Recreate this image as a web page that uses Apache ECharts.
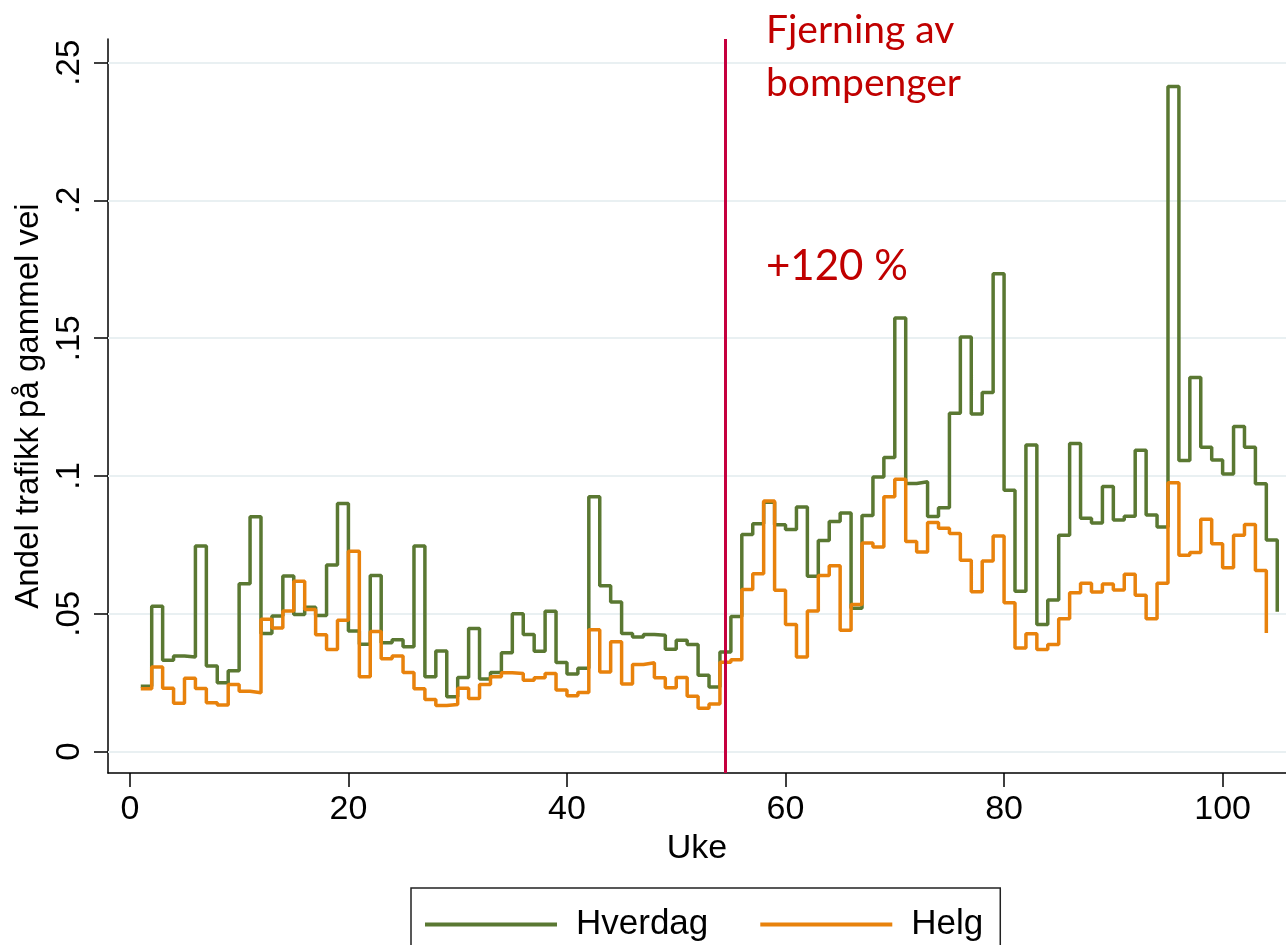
<!DOCTYPE html>
<html>
<head>
<meta charset="utf-8">
<script src="https://cdn.jsdelivr.net/npm/echarts@6/dist/echarts.min.js"></script>
<style>
  html, body { margin: 0; padding: 0; background: #fff; }
  #container { width: 1286px; height: 945px; }
</style>
</head>
<body>
<div id="container"></div>
<script>
// andel trafikk på gammel vei, uke 1..105 (hverdag) og 1..104 (helg)
var hverdag = [0.0237, 0.0527, 0.0331, 0.0347, 0.0343, 0.0746, 0.0310, 0.0250, 0.0293, 0.0609,
  0.0852, 0.0428, 0.0492, 0.0637, 0.0497, 0.0524, 0.0494, 0.0677, 0.0900, 0.0437,
  0.0389, 0.0639, 0.0395, 0.0406, 0.0380, 0.0746, 0.0271, 0.0365, 0.0199, 0.0269,
  0.0446, 0.0263, 0.0287, 0.0358, 0.0500, 0.0425, 0.0364, 0.0509, 0.0323, 0.0281,
  0.0302, 0.0925, 0.0602, 0.0543, 0.0428, 0.0416, 0.0425, 0.0422, 0.0371, 0.0404,
  0.0388, 0.0277, 0.0234, 0.0361, 0.0490, 0.0788, 0.0827, 0.0905, 0.0823, 0.0806,
  0.0887, 0.0636, 0.0766, 0.0835, 0.0866, 0.0520, 0.0857, 0.0996, 0.1067, 0.1573,
  0.0973, 0.0979, 0.0853, 0.0885, 0.1228, 0.1504, 0.1225, 0.1303, 0.1734, 0.0948,
  0.0582, 0.1112, 0.0461, 0.0550, 0.0785, 0.1118, 0.0847, 0.0829, 0.0962, 0.0840,
  0.0854, 0.1093, 0.0858, 0.0815, 0.2414, 0.1056, 0.1357, 0.1104, 0.1058, 0.1007,
  0.1180, 0.1104, 0.0972, 0.0768, 0.0507];

var helg = [0.0228, 0.0307, 0.0230, 0.0175, 0.0266, 0.0229, 0.0177, 0.0169, 0.0243, 0.0219,
  0.0213, 0.0480, 0.0448, 0.0510, 0.0618, 0.0515, 0.0424, 0.0370, 0.0476, 0.0727,
  0.0271, 0.0436, 0.0337, 0.0347, 0.0287, 0.0228, 0.0189, 0.0167, 0.0171, 0.0230,
  0.0192, 0.0243, 0.0271, 0.0286, 0.0283, 0.0259, 0.0268, 0.0283, 0.0223, 0.0202,
  0.0214, 0.0442, 0.0289, 0.0398, 0.0245, 0.0316, 0.0322, 0.0268, 0.0231, 0.0269,
  0.0201, 0.0157, 0.0172, 0.0324, 0.0333, 0.0588, 0.0645, 0.0909, 0.0585, 0.0461,
  0.0343, 0.0510, 0.0639, 0.0674, 0.0440, 0.0534, 0.0757, 0.0742, 0.0925, 0.0988,
  0.0762, 0.0724, 0.0831, 0.0810, 0.0791, 0.0694, 0.0580, 0.0691, 0.0782, 0.0540,
  0.0376, 0.0427, 0.0370, 0.0388, 0.0482, 0.0576, 0.0611, 0.0579, 0.0608, 0.0586,
  0.0643, 0.0567, 0.0482, 0.0611, 0.0975, 0.0712, 0.0722, 0.0843, 0.0754, 0.0667,
  0.0785, 0.0824, 0.0657, 0.0430];

var xTicks = [0, 20, 40, 60, 80, 100];
var yTicks = [0, 0.05, 0.1, 0.15, 0.2, 0.25];
var fjerningUke = 54.45;   // bompenger fjernet

var dom = document.getElementById('container');
var myChart = echarts.init(dom, null, { renderer: 'canvas' });

var font = '"Liberation Sans", Arial, sans-serif';
var annFont = 'Lato, "Open Sans", sans-serif';

function toPairs(arr) {
  return arr.map(function (v, i) { return [i + 1, v]; });
}

var option = {
  animation: false,
  backgroundColor: '#fff',
  grid: { left: 108, right: 0, top: 39, bottom: 172, containLabel: false },
  xAxis: {
    type: 'value',
    min: -2,
    max: 105.8,
    name: 'Uke',
    nameLocation: 'middle',
    nameGap: 55,
    nameTextStyle: { fontFamily: font, fontSize: 34, color: '#000' },
    axisLine: { onZero: false, lineStyle: { color: '#000', width: 1.5 } },
    axisTick: { show: true, length: 14, customValues: xTicks, lineStyle: { color: '#000', width: 1.5 } },
    axisLabel: { customValues: xTicks, fontFamily: font, fontSize: 34, color: '#000', margin: 20 },
    splitLine: { show: false }
  },
  yAxis: {
    type: 'value',
    min: -0.0078,
    max: 0.2586,
    name: 'Andel trafikk på gammel vei',
    nameLocation: 'middle',
    nameRotate: 90,
    nameGap: 62,
    nameTextStyle: { fontFamily: font, fontSize: 33, color: '#000' },
    axisLine: { show: true, onZero: false, lineStyle: { color: '#000', width: 1.5 } },
    axisTick: { show: true, length: 14, customValues: yTicks, lineStyle: { color: '#000', width: 1.5 } },
    axisLabel: {
      customValues: yTicks,
      rotate: 90,
      fontFamily: font, fontSize: 33, color: '#000', margin: 22,
      formatter: function (v) { return v === 0 ? '0' : String(v).replace(/^0/, ''); }
    },
    splitLine: { show: false }
  },
  legend: {
    left: 411,
    top: 888,
    orient: 'horizontal',
    padding: [19, 17, 40, 14],
    borderColor: '#222',
    borderWidth: 1.5,
    borderRadius: 0,
    itemWidth: 132,
    itemHeight: 4,
    itemGap: 52,
    icon: 'rect',
    textStyle: { fontFamily: font, fontSize: 35, color: '#000', padding: [0, 0, 0, 14] },
    data: ['Hverdag', 'Helg']
  },
  series: [
    {
      name: 'Hverdag',
      type: 'line',
      step: 'end',
      symbol: 'none',
      data: toPairs(hverdag),
      lineStyle: { color: '#5a7832', width: 3.5 },
      itemStyle: { color: '#5a7832' },
      markLine: {
        silent: true,
        z: 1,
        symbol: 'none',
        label: { show: false },
        lineStyle: { color: '#e9f0f2', width: 2, type: 'solid' },
        data: yTicks.map(function (t) { return { yAxis: t }; })
      }
    },
    {
      name: 'Helg',
      type: 'line',
      step: 'end',
      symbol: 'none',
      data: toPairs(helg),
      lineStyle: { color: '#e8820c', width: 3.5 },
      itemStyle: { color: '#e8820c' },
      markLine: {
        silent: true,
        symbol: 'none',
        label: { show: false },
        lineStyle: { color: '#c5003e', width: 3, type: 'solid' },
        data: [{ xAxis: fjerningUke }]
      }
    }
  ],
  graphic: [
    {
      type: 'text', left: 766, top: 4,
      style: { text: 'Fjerning av\nbompenger', fill: '#c00000', font: '39px ' + annFont, lineHeight: 53 }
    },
    {
      type: 'text', left: 766, top: 245,
      style: { text: '+120 %', fill: '#c00000', font: '42px ' + annFont }
    }
  ]
};

if (option && typeof option === 'object') {
  myChart.setOption(option);
}
window.addEventListener('resize', myChart.resize);
</script>
</body>
</html>
